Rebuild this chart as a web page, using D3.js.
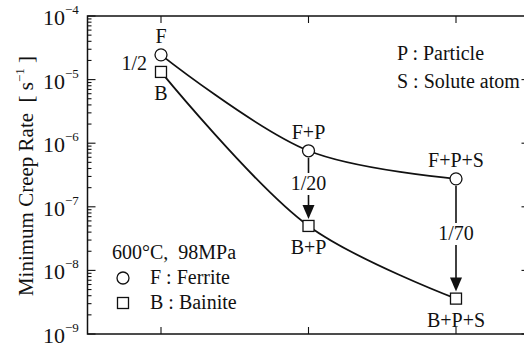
<!DOCTYPE html>
<html><head><meta charset="utf-8">
<script src="https://cdn.jsdelivr.net/npm/d3@7"></script>
<style>
body{margin:0;background:#fff;}
svg{display:block;font-family:"Liberation Serif","Times New Roman",serif;}
</style></head>
<body>
<svg id="c" width="524" height="350"></svg>
<script>
const categories = ["F", "F+P", "F+P+S"];
const ferrite = [2.45e-5, 7.6e-7, 2.75e-7];
const bainite = [1.32e-5, 5.0e-8, 3.6e-9];
const ferriteLabels = ["F", "F+P", "F+P+S"];
const bainiteLabels = ["B", "B+P", "B+P+S"];
const ratioLabels = ["1/2", "1/20", "1/70"];
const yTickExps = [-4, -5, -6, -7, -8, -9];

const svg = d3.select("#c");
const L = 87.5, R = 529.5, T = 16, B = 334;
const x = d3.scalePoint().domain(categories).range([161, 456]);
const y = d3.scaleLog().domain([1e-9, 1e-4]).range([B, T]);
const FS = 20;

// frame
svg.append("rect").attr("x", L).attr("y", T).attr("width", R - L).attr("height", B - T)
  .attr("fill", "none").attr("stroke", "#111").attr("stroke-width", 1.5);

// y ticks (inward)
const ticksG = svg.append("g").attr("stroke", "#111").attr("stroke-width", 1.1);
for (let e = -9; e < -4; e++) {
  for (let m = 1; m < 10; m++) {
    const v = m * Math.pow(10, e);
    const len = m === 1 ? 8 : 4;
    ticksG.append("line").attr("x1", L).attr("x2", L + len).attr("y1", y(v)).attr("y2", y(v));
    ticksG.append("line").attr("x1", R).attr("x2", R - len).attr("y1", y(v)).attr("y2", y(v));
  }
}
ticksG.append("line").attr("x1", L).attr("x2", L + 8).attr("y1", y(1e-4)).attr("y2", y(1e-4));
// x ticks (inward)
categories.forEach(c => {
  ticksG.append("line").attr("x1", x(c)).attr("x2", x(c)).attr("y1", T).attr("y2", T + 7);
  ticksG.append("line").attr("x1", x(c)).attr("x2", x(c)).attr("y1", B).attr("y2", B - 7);
});

// y tick labels
yTickExps.forEach(e => {
  const t = svg.append("text").attr("x", 43).attr("y", y(Math.pow(10, e)) + 9)
    .attr("font-size", 22).attr("fill", "#111");
  t.append("tspan").text("10");
  t.append("tspan").attr("dy", -11).attr("font-size", 13).text("\u2212" + Math.abs(e));
});

// y axis title
const yt = svg.append("text").attr("transform", "translate(33,176) rotate(-90)")
  .attr("text-anchor", "middle").attr("font-size", 21).attr("fill", "#111");
yt.append("tspan").text("Minimum Creep Rate\u00A0 [ s");
yt.append("tspan").attr("dy", -9).attr("font-size", 13).text("\u22121");
yt.append("tspan").attr("dy", 9).text(" ]");

// curves
const line = d3.line().x((d, i) => x(categories[i])).y(d => y(d)).curve(d3.curveCatmullRom.alpha(0.5));
svg.append("path").attr("d", line(ferrite)).attr("fill", "none").attr("stroke", "#111").attr("stroke-width", 1.8);
svg.append("path").attr("d", line(bainite)).attr("fill", "none").attr("stroke", "#111").attr("stroke-width", 1.8);

// markers
ferrite.forEach((v, i) => {
  svg.append("circle").attr("cx", x(categories[i])).attr("cy", y(v)).attr("r", 6)
    .attr("fill", "#fff").attr("stroke", "#111").attr("stroke-width", 1.3);
});
bainite.forEach((v, i) => {
  svg.append("rect").attr("x", x(categories[i]) - 5.5).attr("y", y(v) - 5.5).attr("width", 11).attr("height", 11)
    .attr("fill", "#fff").attr("stroke", "#111").attr("stroke-width", 1.3);
});

// point labels
const txt = (xx, yy, s, anchor) => svg.append("text").attr("x", xx).attr("y", yy)
  .attr("text-anchor", anchor || "middle").attr("font-size", FS).attr("fill", "#111").text(s);
ferrite.forEach((v, i) => txt(x(categories[i]), y(v) - 12, ferriteLabels[i]));
bainite.forEach((v, i) => txt(x(categories[i]), y(v) + 28, bainiteLabels[i]));

// ratio 1/2
txt(x(categories[0]) - 14, y(ferrite[0]) + 15, ratioLabels[0], "end");

// arrows with ratio labels
function arrow(i, labelY) {
  const cx = x(categories[i]);
  const y0 = y(ferrite[i]) + 7, y1 = y(bainite[i]) - 7;
  const ly = labelY;
  svg.append("line").attr("x1", cx).attr("x2", cx).attr("y1", y0).attr("y2", ly - 17)
    .attr("stroke", "#111").attr("stroke-width", 1.6);
  svg.append("line").attr("x1", cx).attr("x2", cx).attr("y1", ly + 5).attr("y2", y1 - 12)
    .attr("stroke", "#111").attr("stroke-width", 1.6);
  svg.append("path").attr("d", `M${cx - 6},${y1 - 14}L${cx + 6},${y1 - 14}L${cx},${y1}Z`).attr("fill", "#111");
  txt(cx, ly, ratioLabels[i]);
}
arrow(1, 190);
arrow(2, 240);

// legends
txt(397, 60, "P : Particle", "start");
txt(397, 88, "S : Solute atom", "start");
txt(112, 259, "600\u00B0C,\u00A0 98MPa", "start");
svg.append("circle").attr("cx", 123).attr("cy", 278).attr("r", 6)
  .attr("fill", "#fff").attr("stroke", "#111").attr("stroke-width", 1.3);
txt(150, 284, "F : Ferrite", "start");
svg.append("rect").attr("x", 117.5).attr("y", 297.5).attr("width", 11).attr("height", 11)
  .attr("fill", "#fff").attr("stroke", "#111").attr("stroke-width", 1.3);
txt(150, 309, "B : Bainite", "start");
</script>
</body></html>
